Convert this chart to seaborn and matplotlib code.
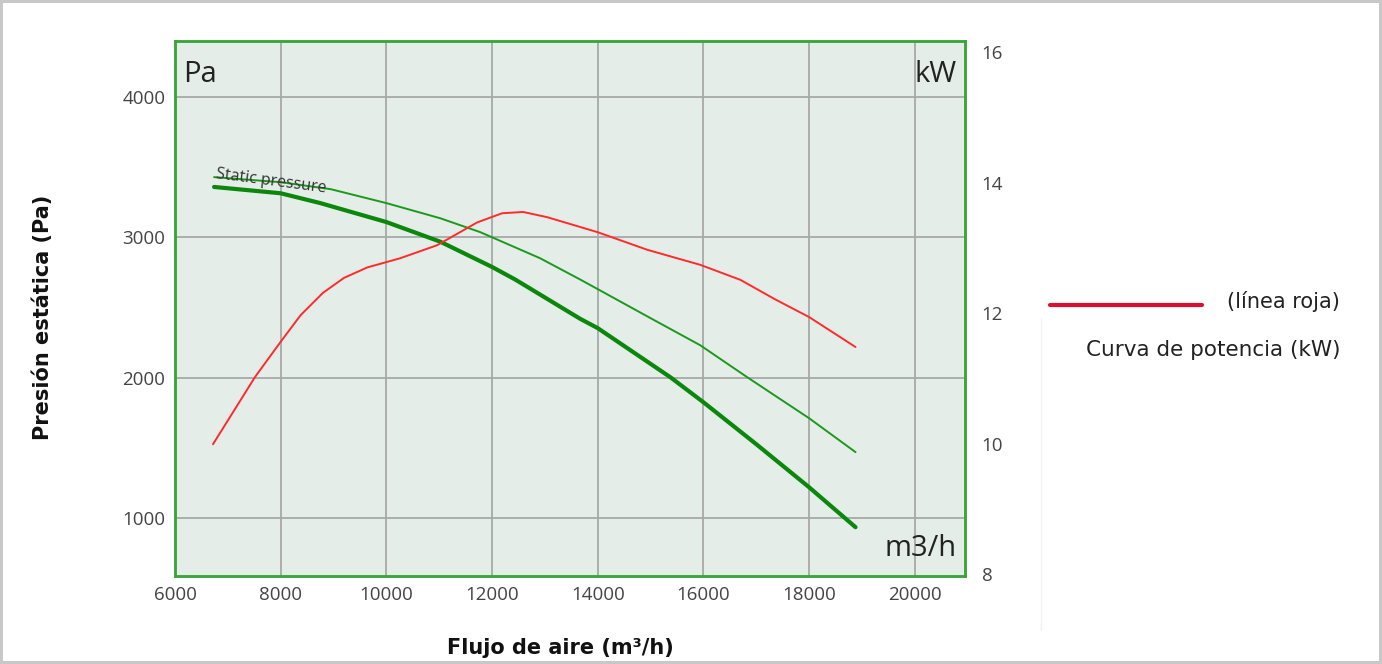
import numpy as np
import pandas as pd
import matplotlib
matplotlib.use("Agg")
import matplotlib.pyplot as plt
import seaborn as sns
from matplotlib.lines import Line2D

# ── Data ──────────────────────────────────────────────────────────────────────
flow_thick = [6740, 8000, 8750, 10000, 11020, 12000, 12440, 13670, 14000,
              15375, 16000, 17000, 18000, 18880]
pres_thick = [3360, 3315, 3245, 3110, 2970, 2790, 2700, 2420, 2354,
              2004, 1826, 1527, 1220, 935]

flow_thin = [6740, 8000, 8950, 10000, 11020, 11777, 12910, 13670, 14000,
             15000, 15940, 16830, 18000, 18880]
pres_thin = [3430, 3394, 3344, 3245, 3137, 3038, 2852, 2700, 2632,
             2425, 2232, 2004, 1712, 1470]

flow_power = [6720, 7515, 8000, 8380, 8800, 9200, 9640, 10260, 10960, 11720,
              12190, 12590, 13045, 14000, 14940, 15940, 16700, 17360, 18000,
              18880]
power_kw = [9.99, 11.02, 11.56, 11.97, 12.31, 12.54, 12.70, 12.84, 13.04, 13.39,
            13.53, 13.55, 13.47, 13.24, 12.97, 12.74, 12.51, 12.21, 11.94,
            11.48]

x_ticks = [6000, 8000, 10000, 12000, 14000, 16000, 18000, 20000]
y_ticks = [1000, 2000, 3000, 4000]
kw_ticks = [8, 10, 12, 14, 16]

df_thick = pd.DataFrame({"flow": flow_thick, "pres": pres_thick})
df_thin = pd.DataFrame({"flow": flow_thin, "pres": pres_thin})
df_power = pd.DataFrame({"flow": flow_power, "kw": power_kw})

# ── Style ─────────────────────────────────────────────────────────────────────
sns.set_style("white")
plt.rcParams["font.family"] = ["Open Sans", "DejaVu Sans"]

BG = "#e4ede8"
SPINE = "#3aa63a"
GRID = "#a8a8a8"
COL_THICK = "#0b870b"
COL_THIN = "#1a9a1a"
COL_RED = "#ff2a2a"
COL_LEG = "#dc0f32"
TXT = "#444444"

fig = plt.figure(figsize=(13.82, 6.64), dpi=100)
fig.patch.set_facecolor("white")
fig.patch.set_edgecolor("#c8c8c8")
fig.patch.set_linewidth(4)

ax = fig.add_axes([0.1266, 0.1325, 0.5716, 0.8057])
ax.set_facecolor(BG)

sns.lineplot(data=df_thin, x="flow", y="pres", ax=ax, color=COL_THIN,
             linewidth=1.4, sort=False)
sns.lineplot(data=df_thick, x="flow", y="pres", ax=ax, color=COL_THICK,
             linewidth=3.0, sort=False)

ax.set_xlim(6000, 20950)
ax.set_ylim(587, 4400)
ax.set_xticks(x_ticks)
ax.set_yticks(y_ticks)
ax.grid(True, color=GRID, linewidth=1.3)
ax.set_axisbelow(True)
ax.tick_params(axis="both", length=0, labelsize=13.5, labelcolor=TXT, pad=7)
ax.set_xlabel("")
ax.set_ylabel("")

ax2 = ax.twinx()
sns.lineplot(data=df_power, x="flow", y="kw", ax=ax2, color=COL_RED,
             linewidth=1.4, sort=False)
ax2.set_ylim(7.97, 16.17)
ax2.set_yticks(kw_ticks)
ax2.set_ylabel("")
ax2.tick_params(axis="y", length=0, labelsize=13.5, labelcolor=TXT, pad=12)
ax2.grid(False)

for a in (ax, ax2):
    for s in a.spines.values():
        s.set_color(SPINE)
        s.set_linewidth(1.8)

# Axis titles
fig.text(560 / 1382, 1 - 648 / 664, "Flujo de aire (m³/h)", fontsize=15,
         fontweight="bold", family="DejaVu Sans", color="#111111",
         ha="center", va="center")
fig.text(43 / 1382, 1 - 317 / 664, "Presión estática (Pa)", fontsize=15,
         fontweight="bold", family="DejaVu Sans", color="#111111",
         rotation=90, ha="center", va="center")

# Corner unit labels
ax.text(0.010, 0.965, "Pa", transform=ax.transAxes, fontsize=21,
        color="#222222", ha="left", va="top")
ax.text(0.990, 0.965, "kW", transform=ax.transAxes, fontsize=21,
        color="#222222", ha="right", va="top")
ax.text(0.990, 0.025, "m3/h", transform=ax.transAxes, fontsize=21,
        color="#222222", ha="right", va="bottom")

# Curve label
ax.text(6750, 3395, "Static pressure", fontsize=11.5, color="#333333",
        rotation=-7.5, rotation_mode="anchor", ha="left", va="bottom")

# Legend on the right
fig.add_artist(Line2D([1050 / 1382, 1202 / 1382], [1 - 305 / 664, 1 - 305 / 664],
                      color=COL_LEG, linewidth=3, transform=fig.transFigure))
fig.add_artist(Line2D([1041 / 1382, 1041 / 1382], [1 - 318 / 664, 1 - 630 / 664],
                      color="#f3f3f3", linewidth=1, transform=fig.transFigure))
fig.text(1340 / 1382, 1 - 301 / 664, "(línea roja)", fontsize=15,
         color="#222222", ha="right", va="center", family="DejaVu Sans")
fig.text(1340 / 1382, 1 - 350 / 664, "Curva de potencia (kW)", fontsize=15.5,
         color="#222222", ha="right", va="center", family="DejaVu Sans")

fig.savefig("out.png", dpi=100)
plt.close(fig)
